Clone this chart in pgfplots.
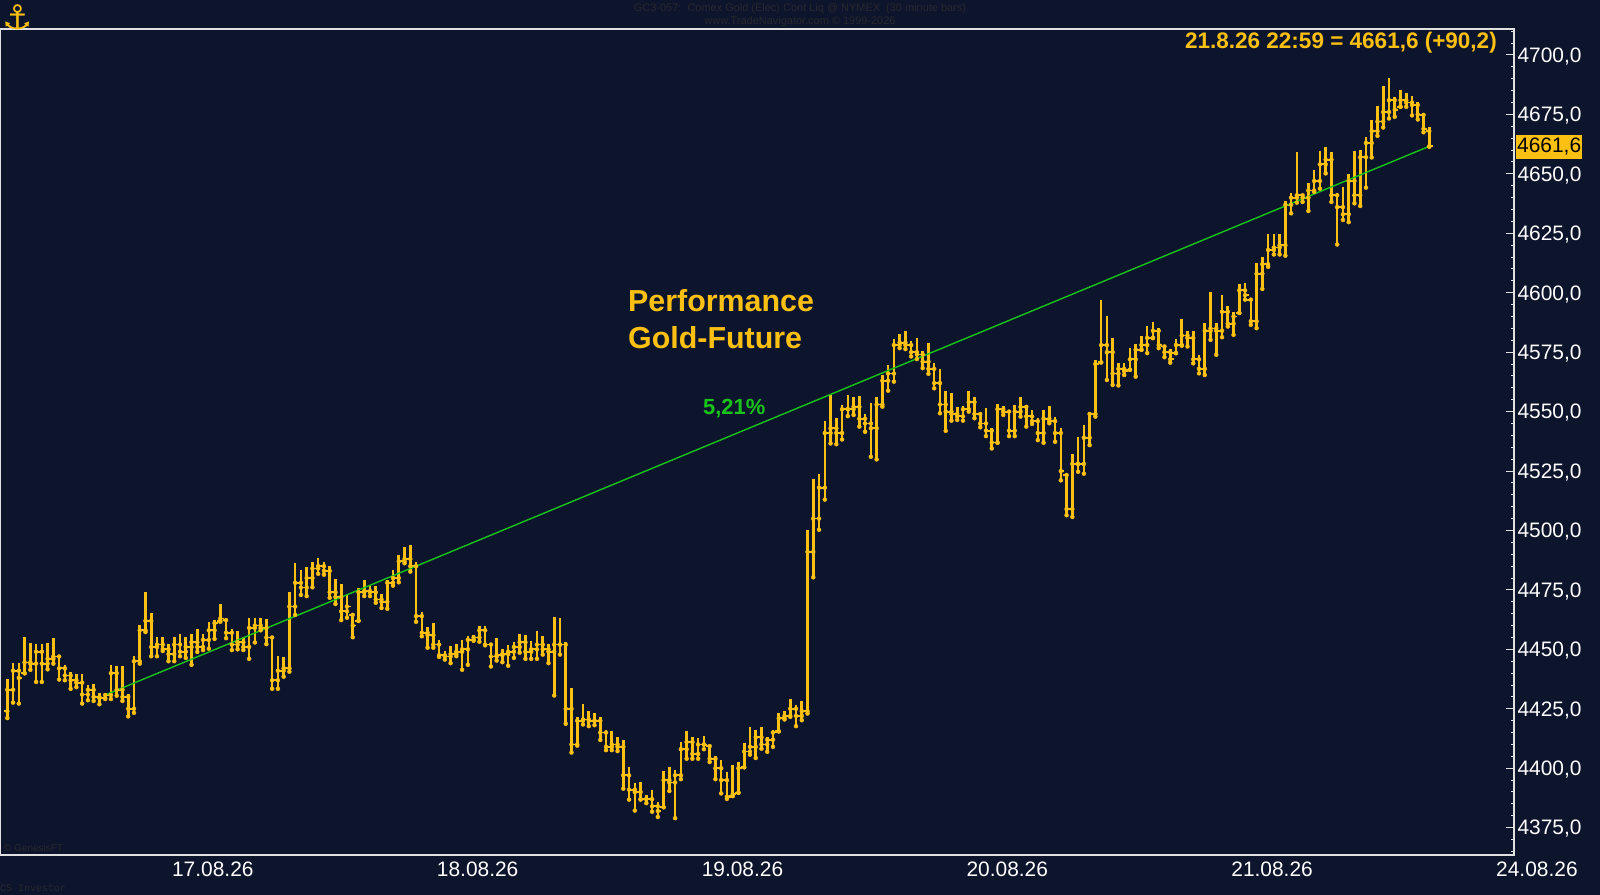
\documentclass[border=0pt]{standalone}
\usepackage{fontspec}
\setmainfont{Liberation Sans}
\newfontfamily\monofont{Liberation Mono}
\newfontfamily\symfont{DejaVu Sans}
\usepackage{pgfplots}
\usepackage{pgfplotstable}
\pgfplotsset{compat=1.18}
\definecolor{bg}{RGB}{13,21,45}
\definecolor{gold}{RGB}{252,192,18}
\definecolor{grn}{RGB}{25,196,25}
\definecolor{dimtxt}{RGB}{40,40,44}
\definecolor{frame}{RGB}{225,225,225}
\pgfplotstableread{
i lo hi op cl
0 4421.1 4437.7 4424.0 4433.0
1 4427.6 4444.2 4433.0 4441.0
2 4427.2 4444.2 4441.0 4438.0
3 4439.9 4455.1 4440.0 4444.5
4 4441.4 4452.6 4444.5 4444.0
5 4436.3 4452.2 4444.0 4449.0
6 4436.3 4452.2 4449.0 4444.0
7 4441.6 4452.6 4444.0 4446.0
8 4444.0 4454.8 4446.0 4447.0
9 4437.3 4447.1 4447.0 4442.0
10 4437.0 4443.5 4442.0 4439.0
11 4433.4 4440.6 4439.0 4437.0
12 4434.1 4439.6 4437.0 4436.0
13 4427.2 4439.6 4436.0 4431.0
14 4428.6 4434.8 4431.0 4433.0
15 4428.3 4435.6 4433.0 4430.0
16 4426.9 4431.5 4430.0 4429.5
17 4429.1 4431.2 4429.5 4430.8
18 4429.1 4443.5 4430.8 4440.0
19 4430.5 4443.1 4440.0 4433.0
20 4428.3 4442.8 4433.0 4430.0
21 4421.8 4431.2 4430.0 4425.0
22 4423.3 4447.1 4425.0 4445.0
23 4444.0 4460.2 4445.0 4458.0
24 4457.3 4474.3 4458.0 4462.0
25 4447.1 4465.2 4462.0 4451.0
26 4447.1 4455.1 4451.0 4452.0
27 4449.3 4455.1 4452.0 4450.0
28 4445.0 4452.2 4450.0 4448.0
29 4445.0 4455.1 4448.0 4452.0
30 4447.1 4456.5 4452.0 4449.0
31 4446.4 4455.1 4449.0 4451.0
32 4443.5 4456.5 4451.0 4453.0
33 4448.9 4458.7 4453.0 4451.0
34 4449.7 4456.5 4451.0 4454.0
35 4450.3 4461.3 4454.0 4458.0
36 4454.4 4462.3 4458.0 4461.0
37 4461.6 4469.1 4462.0 4463.0
38 4454.7 4462.3 4462.3 4457.0
39 4449.7 4458.7 4457.0 4452.0
40 4450.0 4457.6 4452.0 4453.0
41 4449.7 4455.1 4453.0 4451.0
42 4446.0 4463.3 4451.0 4459.0
43 4452.9 4463.3 4459.0 4460.0
44 4458.0 4463.0 4460.0 4459.0
45 4452.2 4462.8 4459.0 4455.0
46 4433.4 4455.8 4455.0 4437.0
47 4433.4 4447.1 4437.0 4441.0
48 4438.5 4446.8 4441.0 4442.0
49 4440.6 4474.3 4442.0 4468.0
50 4464.5 4486.2 4468.0 4478.0
51 4472.9 4483.3 4478.0 4476.0
52 4472.4 4484.7 4476.0 4480.0
53 4476.1 4486.9 4480.0 4484.0
54 4481.8 4488.4 4484.0 4485.0
55 4481.4 4486.9 4485.0 4483.0
56 4471.7 4485.0 4483.0 4474.0
57 4469.1 4479.7 4474.0 4472.0
58 4462.3 4477.5 4472.0 4466.0
59 4463.3 4472.9 4466.0 4468.0
60 4455.1 4464.5 4464.5 4460.0
61 4462.0 4476.0 4462.0 4474.0
62 4472.4 4479.0 4474.0 4474.5
63 4472.4 4476.8 4474.5 4474.0
64 4469.6 4476.8 4474.0 4471.0
65 4467.4 4473.2 4471.0 4470.0
66 4467.1 4479.2 4470.0 4478.0
67 4476.8 4483.3 4478.0 4480.0
68 4478.2 4489.8 4480.0 4487.0
69 4486.2 4493.1 4487.0 4488.0
70 4482.7 4493.7 4488.0 4485.0
71 4461.6 4486.9 4485.0 4464.0
72 4455.5 4465.8 4464.0 4457.0
73 4450.7 4459.3 4457.0 4456.0
74 4450.7 4461.2 4456.0 4452.0
75 4446.8 4453.9 4452.0 4447.5
76 4445.7 4449.3 4447.5 4447.0
77 4444.2 4451.4 4447.0 4448.0
78 4447.1 4452.1 4448.0 4449.0
79 4441.4 4453.9 4449.0 4450.0
80 4443.5 4455.5 4450.0 4454.0
81 4453.6 4456.0 4454.0 4455.0
82 4453.2 4460.0 4455.0 4458.0
83 4451.7 4460.0 4458.0 4452.0
84 4442.8 4452.1 4452.0 4447.0
85 4445.3 4454.6 4447.0 4447.5
86 4444.6 4450.0 4447.5 4448.0
87 4443.1 4451.7 4448.0 4449.0
88 4446.4 4452.9 4449.0 4451.0
89 4448.6 4456.5 4451.0 4453.0
90 4446.0 4456.0 4453.0 4449.0
91 4446.0 4453.6 4449.0 4450.0
92 4446.0 4457.9 4450.0 4452.0
93 4447.8 4455.5 4452.0 4450.0
94 4444.2 4452.1 4450.0 4449.0
95 4430.6 4463.7 4449.0 4452.0
96 4447.8 4463.3 4452.0 4452.0
97 4418.7 4452.9 4452.0 4425.0
98 4406.6 4433.9 4425.0 4410.0
99 4409.5 4421.6 4410.0 4420.0
100 4418.4 4427.0 4420.0 4420.5
101 4417.7 4424.1 4420.5 4420.0
102 4418.1 4423.4 4420.0 4420.0
103 4411.9 4421.6 4420.0 4415.0
104 4407.6 4416.2 4415.0 4409.0
105 4407.6 4415.5 4409.0 4410.0
106 4407.2 4413.3 4410.0 4409.0
107 4391.4 4411.9 4409.0 4397.0
108 4386.8 4400.4 4397.0 4391.0
109 4382.2 4393.9 4391.0 4390.0
110 4386.8 4394.2 4390.0 4387.0
111 4385.3 4388.9 4387.0 4387.0
112 4381.7 4390.8 4387.0 4384.0
113 4379.5 4386.0 4384.0 4382.0
114 4383.6 4398.9 4383.6 4395.0
115 4390.4 4400.4 4395.0 4394.0
116 4379.0 4399.4 4394.0 4397.0
117 4395.4 4410.9 4397.0 4408.0
118 4404.0 4415.5 4408.0 4411.0
119 4404.0 4413.3 4411.0 4406.0
120 4404.0 4412.6 4406.0 4410.0
121 4408.0 4413.7 4410.0 4410.0
122 4402.6 4409.3 4409.3 4404.0
123 4395.4 4405.2 4404.0 4400.0
124 4389.4 4403.3 4400.0 4395.0
125 4387.1 4398.5 4395.0 4388.0
126 4388.3 4401.4 4388.3 4389.0
127 4389.7 4402.6 4389.7 4400.0
128 4400.4 4410.5 4400.4 4407.0
129 4405.7 4417.2 4407.0 4409.0
130 4404.3 4416.2 4409.0 4413.0
131 4408.2 4417.2 4413.0 4410.0
132 4406.9 4413.3 4410.0 4412.0
133 4409.0 4416.2 4412.0 4415.0
134 4415.5 4423.4 4415.5 4421.0
135 4420.5 4424.1 4421.0 4422.0
136 4421.6 4429.2 4422.0 4425.0
137 4417.7 4426.7 4425.0 4422.0
138 4420.2 4428.3 4422.0 4424.0
139 4423.0 4500.0 4424.0 4491.0
140 4480.3 4521.8 4491.0 4505.0
141 4500.3 4523.9 4505.0 4518.0
142 4513.0 4546.2 4518.0 4541.0
143 4536.6 4557.0 4541.0 4543.0
144 4536.3 4547.2 4543.0 4541.0
145 4538.3 4552.8 4541.0 4551.0
146 4548.1 4557.0 4551.0 4551.0
147 4548.6 4556.0 4551.0 4552.0
148 4543.7 4556.6 4552.0 4547.0
149 4541.5 4549.0 4547.0 4545.0
150 4531.0 4553.8 4545.0 4543.0
151 4529.9 4556.0 4543.0 4553.0
152 4552.1 4565.5 4553.0 4563.0
153 4558.8 4569.7 4563.0 4566.0
154 4562.6 4580.5 4566.0 4578.0
155 4576.7 4582.7 4578.0 4579.0
156 4576.3 4583.7 4579.0 4578.0
157 4573.2 4579.9 4578.0 4575.0
158 4572.1 4580.9 4575.0 4574.0
159 4568.3 4575.7 4574.0 4571.0
160 4565.9 4578.8 4571.0 4568.0
161 4559.8 4570.6 4568.0 4562.0
162 4549.3 4567.8 4562.0 4553.0
163 4541.9 4558.8 4553.0 4550.0
164 4546.2 4557.7 4550.0 4549.0
165 4546.5 4552.1 4549.0 4548.0
166 4546.2 4552.4 4548.0 4551.0
167 4550.0 4558.8 4551.0 4554.0
168 4547.2 4556.3 4554.0 4549.0
169 4543.4 4549.3 4549.0 4545.0
170 4539.7 4551.4 4545.0 4542.0
171 4534.5 4543.0 4542.0 4537.0
172 4536.9 4553.2 4537.0 4551.0
173 4548.6 4552.4 4551.0 4550.0
174 4539.7 4550.4 4550.0 4542.0
175 4539.7 4552.8 4542.0 4550.0
176 4547.9 4556.0 4550.0 4552.0
177 4543.7 4552.1 4552.0 4548.0
178 4544.8 4550.7 4548.0 4546.0
179 4538.0 4547.2 4546.0 4541.0
180 4536.9 4550.7 4541.0 4547.0
181 4545.1 4552.4 4547.0 4546.0
182 4537.3 4547.9 4546.0 4541.0
183 4521.1 4543.0 4541.0 4525.0
184 4506.4 4523.3 4523.3 4509.0
185 4505.7 4532.1 4509.0 4528.0
186 4524.7 4539.4 4528.0 4528.0
187 4523.9 4544.3 4528.0 4539.0
188 4535.9 4550.0 4539.0 4549.0
189 4547.9 4571.8 4549.0 4570.0
190 4570.7 4596.8 4570.7 4578.0
191 4563.3 4590.1 4578.0 4575.0
192 4561.2 4580.9 4575.0 4566.0
193 4561.0 4570.5 4566.0 4568.0
194 4565.4 4570.3 4568.0 4567.0
195 4567.6 4576.7 4567.6 4572.0
196 4564.7 4578.5 4572.0 4576.0
197 4576.0 4581.6 4576.0 4578.0
198 4574.6 4585.8 4578.0 4581.0
199 4580.9 4587.9 4581.0 4584.0
200 4576.7 4585.1 4584.0 4578.0
201 4572.9 4577.4 4577.4 4575.0
202 4570.6 4576.3 4575.0 4572.0
203 4574.6 4580.5 4574.6 4578.0
204 4577.7 4588.9 4578.0 4582.0
205 4577.4 4583.7 4582.0 4581.0
206 4570.3 4583.7 4581.0 4572.0
207 4566.1 4573.9 4572.0 4568.0
208 4565.4 4587.2 4568.0 4584.0
209 4580.2 4600.2 4584.0 4585.0
210 4573.9 4587.2 4585.0 4584.0
211 4581.3 4599.2 4584.0 4592.0
212 4585.8 4594.6 4592.0 4587.0
213 4582.3 4591.7 4587.0 4590.0
214 4591.5 4603.8 4591.5 4601.0
215 4597.1 4604.1 4601.0 4599.0
216 4586.5 4597.1 4597.1 4588.0
217 4585.1 4612.6 4588.0 4608.0
218 4601.6 4615.1 4608.0 4612.0
219 4610.9 4624.9 4612.0 4618.0
220 4616.1 4624.9 4618.0 4619.0
221 4616.1 4624.5 4619.0 4620.0
222 4615.6 4638.6 4620.0 4637.0
223 4633.4 4642.1 4637.0 4640.0
224 4637.9 4659.3 4640.0 4641.0
225 4638.2 4641.4 4641.0 4640.0
226 4634.4 4646.3 4640.0 4643.0
227 4642.4 4651.6 4643.0 4647.0
228 4643.8 4659.7 4647.0 4654.0
229 4650.2 4661.5 4654.0 4656.0
230 4638.2 4659.3 4656.0 4641.0
231 4620.3 4641.8 4641.0 4636.0
232 4630.6 4644.6 4636.0 4633.0
233 4629.7 4649.8 4633.0 4647.0
234 4637.6 4659.7 4647.0 4641.0
235 4636.5 4660.1 4641.0 4657.0
236 4644.2 4665.3 4657.0 4663.0
237 4656.9 4672.8 4663.0 4668.0
238 4666.0 4678.4 4668.0 4672.0
239 4669.5 4687.1 4672.0 4676.0
240 4673.3 4690.2 4676.0 4681.0
241 4674.0 4682.4 4681.0 4677.0
242 4678.2 4685.1 4678.2 4681.0
243 4678.2 4684.0 4681.0 4680.0
244 4674.6 4682.6 4680.0 4679.0
245 4672.9 4680.3 4679.0 4675.0
246 4667.5 4674.8 4674.8 4669.0
247 4661.4 4669.6 4668.0 4661.6
}\ohlc
\begin{document}
\begin{tikzpicture}
\fill[bg] (0,0) rectangle (1600bp,895bp);
\useasboundingbox (0,0) rectangle (1600bp,895bp);
\begin{axis}[
  at={(0bp,40bp)}, anchor=south west,
  scale only axis, width=1514bp, height=826bp,
  xmin=-1.27, xmax=261.72, ymin=4363.5, ymax=4710.94,
  clip=false,
  axis line style={draw=frame, line width=1.5bp},
  /pgf/number format/assume math mode=true,
  ytick={4375,4400,...,4700},
  minor ytick={4365,4370,...,4710},
  ytick pos=right, yticklabel pos=right,
  tick align=inside,
  major tick length=8bp, minor tick length=3.5bp,
  every tick/.style={draw=frame, line width=1bp},
  xtick={35.7,81.7,127.7,173.7,219.7},
  xticklabels={17.08.26,18.08.26,19.08.26,20.08.26,21.08.26},
  xtick pos=bottom,
  xtick style={draw=none},
  ticklabel style={text=white, font=\fontsize{21}{24}\selectfont},
  x tick label style={yshift=-3bp},
  y tick label style={text depth=0pt, /pgf/number format/.cd, fixed, fixed zerofill, precision=1, use comma, 1000 sep={}},
]
% high-low bars
\addplot[gold, only marks, mark=none, forget plot,
  error bars/.cd, y dir=plus, y explicit, error mark=none,
  error bar style={draw=gold, solid, line width=2.6bp}]
  table[x=i, y=lo, y error expr=\thisrow{hi}-\thisrow{lo}] {\ohlc};
% open ticks
\addplot[gold, only marks, mark=none, forget plot,
  error bars/.cd, x dir=minus, x fixed=0.62, error mark=none,
  error bar style={draw=gold, solid, line width=1.8bp}]
  table[x=i, y=op] {\ohlc};
% close ticks
\addplot[gold, only marks, mark=none, forget plot,
  error bars/.cd, x dir=plus, x fixed=0.62, error mark=none,
  error bar style={draw=gold, solid, line width=1.8bp}]
  table[x=i, y=cl] {\ohlc};
% performance line
\addplot[grn, line width=1.4bp] coordinates {(17,4430.8) (247,4661.6)};
\node[text=white, font=\fontsize{21}{24}\selectfont, anchor=north, yshift=-3bp] at (axis cs:265.7,4363.5) {24.08.26};
\end{axis}
% texts
\node[text=dimtxt, font=\fontsize{11}{13}\selectfont] at (800bp,886.5bp) {GC3-057:\ \ Comex Gold (Elec) Cont Liq @ NYMEX\ \ (30 minute bars)};
\node[text=dimtxt, font=\fontsize{11}{13}\selectfont] at (800bp,873.5bp) {www.TradeNavigator.com \textcopyright\ 1999-2026};
\node[text=gold, font=\symfont\fontsize{34}{36}\selectfont, inner sep=0] at (18bp,878bp) {⚓};
\node[text=gold, font=\bfseries\fontsize{30.5}{33}\selectfont, anchor=base west, inner sep=0] at (628bp,583bp) {Performance};
\node[text=gold, font=\bfseries\fontsize{30.5}{33}\selectfont, anchor=base west, inner sep=0] at (628bp,546bp) {Gold-Future};
\node[text=grn, font=\bfseries\fontsize{22}{24}\selectfont, anchor=base west, inner sep=0] at (703bp,480bp) {5,21\%};
\node[text=gold, font=\bfseries\fontsize{22.6}{25}\selectfont, anchor=base east, inner sep=0] at (1497bp,846bp) {21.8.26 22:59 = 4661,6 (+90,2)};
\node[fill=gold, text=black, font=\fontsize{21}{24}\selectfont, anchor=west, inner xsep=1bp, inner ysep=0pt, minimum height=24bp] at (1516bp,748bp) {4661,6};
\node[text=dimtxt, font=\fontsize{10}{12}\selectfont, anchor=south west, inner sep=0] at (4bp,43bp) {\textcopyright\ GenesisFT};
\node[text=dimtxt, font=\monofont\fontsize{10}{12}\selectfont, anchor=west, inner sep=0] at (0bp,7bp) {CS Investor};
\end{tikzpicture}
\end{document}
